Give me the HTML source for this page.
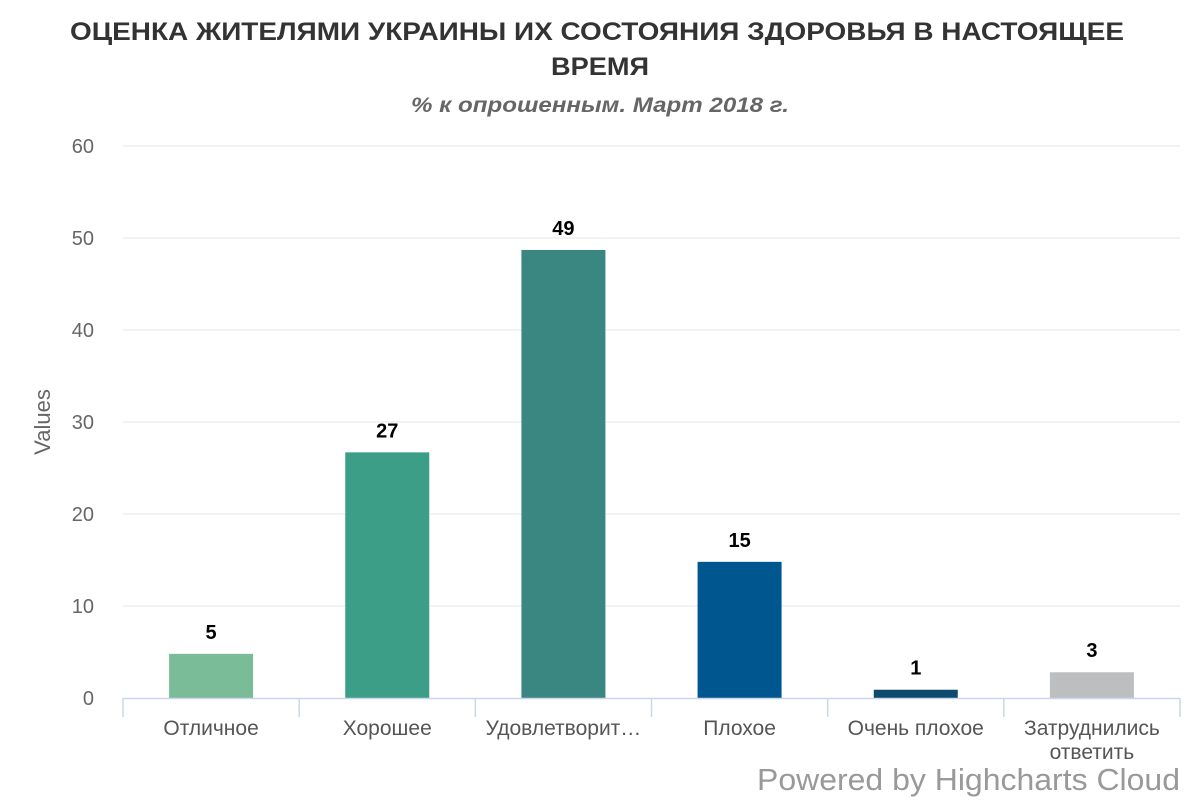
<!DOCTYPE html>
<html><head><meta charset="utf-8"><style>
body{margin:0;background:#fff;}
svg{display:block;font-family:"Liberation Sans",sans-serif;}
</style></head><body>
<svg id="chart" width="1200" height="800">
<text x="597" y="40" text-anchor="middle" font-size="25" font-weight="bold" fill="#333" textLength="1054" lengthAdjust="spacingAndGlyphs">ОЦЕНКА ЖИТЕЛЯМИ УКРАИНЫ ИХ СОСТОЯНИЯ ЗДОРОВЬЯ В НАСТОЯЩЕЕ</text>
<text x="600" y="75" text-anchor="middle" font-size="25" font-weight="bold" fill="#333" textLength="98" lengthAdjust="spacingAndGlyphs">ВРЕМЯ</text>
<text x="600" y="112" text-anchor="middle" font-size="21" font-weight="bold" font-style="italic" fill="#666" textLength="378" lengthAdjust="spacingAndGlyphs">% к опрошенным. Март 2018 г.</text>
<text transform="translate(50,422) rotate(-90)" text-anchor="middle" font-size="22" fill="#666">Values</text>
<g id="grid"></g><g id="bars"></g><g id="xaxis"></g>
<text x="1180" y="790" text-anchor="end" font-size="31" fill="#999" textLength="423" lengthAdjust="spacingAndGlyphs">Powered by Highcharts Cloud</text>
</svg>
<script>
const categories=["Отличное","Хорошее","Удовлетворит…","Плохое","Очень плохое","Затруднились|ответить"];
const values=[4.8,26.7,48.7,14.8,0.9,2.8];
const labels=["5","27","49","15","1","3"];
const colors=["#7bbc98","#3c9e86","#3a8681","#00578f","#0d4a6e","#bdbec0"];
const ticks=[0,10,20,30,40,50,60];
const L=123,R=1180,T=146,B=698,ymax=60;
const ns="http://www.w3.org/2000/svg";
const y=v=>B-(v/ymax)*(B-T);
const cw=(R-L)/categories.length;
const x=i=>L+cw*(i+0.5);
function mk(t,a,p){const e=document.createElementNS(ns,t);for(const k in a)e.setAttribute(k,a[k]);p.appendChild(e);return e;}
const g=document.getElementById('grid');
ticks.forEach(t=>{
 if(t>0){const l=mk('line',{x1:L,x2:R,y1:y(t),y2:y(t),stroke:'#e6e6e6','stroke-width':1},g);
 
 }
 const tx=mk('text',{x:94,y:y(t)+7,'text-anchor':'end','font-size':20,fill:'#666'},g);tx.textContent=t;
 
 
});
const bg=document.getElementById('bars');
const bw=84;
values.forEach((v,i)=>{
 const r=mk('rect',{x:x(i)-bw/2,y:y(v),width:bw,height:B-y(v),fill:colors[i]},bg);
 
 
 const t=mk('text',{x:x(i),y:y(v)-15,'text-anchor':'middle','font-size':20,'font-weight':'bold',fill:'#000'},bg);t.textContent=labels[i];
 
 
});
const xa=document.getElementById('xaxis');
const al=mk('line',{x1:L,x2:R,y1:B+0.5,y2:B+0.5,stroke:'#ccd6eb','stroke-width':1.5},xa);


for(let i=0;i<=categories.length;i++){
 const tk=mk('line',{x1:L+cw*i,x2:L+cw*i,y1:B,y2:B+19,stroke:'#ccd6eb','stroke-width':1.5},xa);
 
 
}
categories.forEach((c,i)=>{
 c.split('|').forEach((s,j)=>{
  const t=mk('text',{x:x(i),y:735+j*24,'text-anchor':'middle','font-size':21,fill:'#555'},xa);t.textContent=s;
  
  
 });
});
</script>
</body></html>
